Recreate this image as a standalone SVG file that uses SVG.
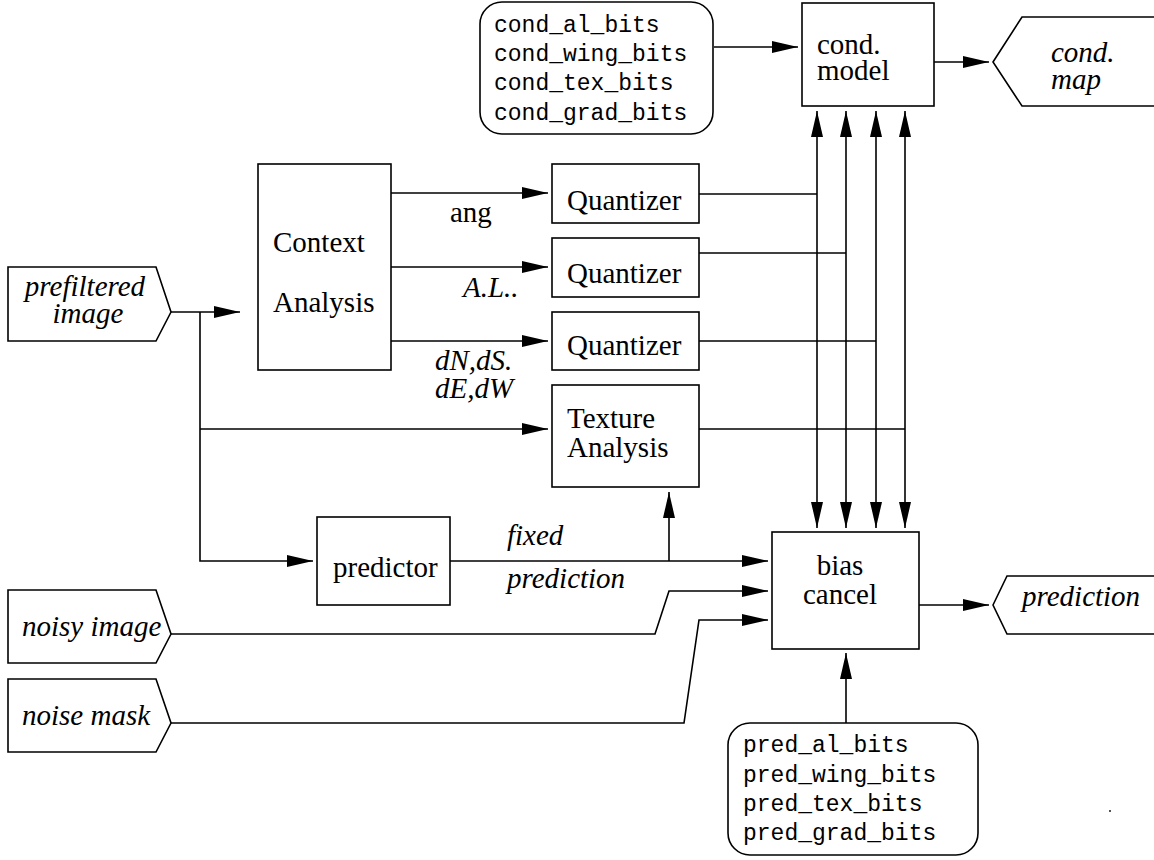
<svg xmlns="http://www.w3.org/2000/svg" width="1154" height="860" viewBox="0 0 1154 860">
<style>
.b{fill:#fff;stroke:#000;stroke-width:1.6}
.l{fill:none;stroke:#000;stroke-width:1.6}
.t{font-family:"Liberation Serif","Times New Roman",serif;font-size:29px;fill:#000}
.i{font-family:"Liberation Serif","Times New Roman",serif;font-size:29px;font-style:italic;fill:#000}
.m{font-family:"Liberation Mono","Courier New",monospace;font-size:23px;fill:#000}
</style>
<defs>
<marker id="a" markerUnits="userSpaceOnUse" markerWidth="26" markerHeight="12" refX="26" refY="6" orient="auto-start-reverse"><path d="M0,0 L26,6 L0,12 z" fill="#000"/></marker>
</defs>
<rect width="1154" height="860" fill="#fff"/>
<g id="connectors">
<path class="l" d="M714,47 H798" marker-end="url(#a)"/>
<path class="l" d="M934,62 H989" marker-end="url(#a)"/>
<path class="l" d="M817,111 V528" marker-start="url(#a)" marker-end="url(#a)"/>
<path class="l" d="M846,111 V528" marker-start="url(#a)" marker-end="url(#a)"/>
<path class="l" d="M876,111 V528" marker-start="url(#a)" marker-end="url(#a)"/>
<path class="l" d="M905,111 V528" marker-start="url(#a)" marker-end="url(#a)"/>
<path class="l" d="M699,194 H817"/>
<path class="l" d="M699,253 H846"/>
<path class="l" d="M699,341 H876"/>
<path class="l" d="M699,429 H905"/>
<path class="l" d="M391,193 H548" marker-end="url(#a)"/>
<path class="l" d="M391,267 H548" marker-end="url(#a)"/>
<path class="l" d="M391,341 H548" marker-end="url(#a)"/>
<path class="l" d="M171,312 H240" marker-end="url(#a)"/>
<path class="l" d="M200,312 V561 H313" marker-end="url(#a)"/>
<path class="l" d="M200,429 H548" marker-end="url(#a)"/>
<path class="l" d="M450,561 H768" marker-end="url(#a)"/>
<path class="l" d="M669,561 V492" marker-end="url(#a)"/>
<path class="l" d="M171,634 H655 L669,591 H768" marker-end="url(#a)"/>
<path class="l" d="M171,723 H684 L699,620 H768" marker-end="url(#a)"/>
<path class="l" d="M919,605 H989" marker-end="url(#a)"/>
<path class="l" d="M846,723 V653" marker-end="url(#a)"/>
</g>
<g id="cond_bits">
<rect class="b" x="480" y="2" width="233" height="132" rx="22"/>
<text class="m" x="494" y="32">cond_al_bits</text>
<text class="m" x="494" y="61">cond_wing_bits</text>
<text class="m" x="494" y="90">cond_tex_bits</text>
<text class="m" x="494" y="120">cond_grad_bits</text>
</g>
<g id="cond_model">
<rect class="b" x="802" y="3" width="132" height="103"/>
<text class="t" x="817" y="54">cond.</text>
<text class="t" x="817" y="80">model</text>
</g>
<g id="cond_map">
<path class="b" d="M993,62 L1022,17 H1160 V106 H1022 Z"/>
<text class="i" x="1051" y="62">cond.</text>
<text class="i" x="1051" y="89">map</text>
</g>
<g id="prefiltered">
<path class="b" d="M8,267 H156 L171,312 L156,341 H8 Z"/>
<text class="i" x="85" y="296" text-anchor="middle">prefiltered</text>
<text class="i" x="88" y="323" text-anchor="middle">image</text>
</g>
<g id="context">
<rect class="b" x="258" y="164" width="133" height="206"/>
<text class="t" x="273" y="252">Context</text>
<text class="t" x="273" y="312">Analysis</text>
</g>
<g id="labels">
<text class="t" x="450" y="222">ang</text>
<text class="i" x="463" y="297">A.L..</text>
<text class="i" x="435" y="370">dN,dS.</text>
<text class="i" x="435" y="398">dE,dW</text>
<text class="i" x="507" y="545">fixed</text>
<text class="i" x="507" y="588">prediction</text>
</g>
<g id="q1">
<rect class="b" x="552" y="164" width="147" height="59"/>
<text class="t" x="567" y="210">Quantizer</text>
</g>
<g id="q2">
<rect class="b" x="552" y="238" width="147" height="59"/>
<text class="t" x="567" y="283">Quantizer</text>
</g>
<g id="q3">
<rect class="b" x="552" y="312" width="147" height="58"/>
<text class="t" x="567" y="355">Quantizer</text>
</g>
<g id="texture">
<rect class="b" x="552" y="385" width="147" height="102"/>
<text class="t" x="567" y="428">Texture</text>
<text class="t" x="567" y="457">Analysis</text>
</g>
<g id="predictor">
<rect class="b" x="317" y="517" width="133" height="88"/>
<text class="t" x="333" y="577">predictor</text>
</g>
<g id="bias_cancel">
<rect class="b" x="772" y="532" width="147" height="117"/>
<text class="t" x="840" y="575" text-anchor="middle">bias</text>
<text class="t" x="840" y="604" text-anchor="middle">cancel</text>
</g>
<g id="prediction_out">
<path class="b" d="M993,605 L1007,576 H1160 V634 H1007 Z"/>
<text class="i" x="1022" y="606">prediction</text>
</g>
<g id="noisy_image">
<path class="b" d="M8,590 H156 L171,634 L156,663 H8 Z"/>
<text class="i" x="22" y="636">noisy image</text>
</g>
<g id="noise_mask">
<path class="b" d="M8,679 H156 L171,723 L156,752 H8 Z"/>
<text class="i" x="22" y="725">noise mask</text>
</g>
<g id="pred_bits">
<rect class="b" x="728" y="723" width="250" height="132" rx="22"/>
<text class="m" x="743" y="752">pred_al_bits</text>
<text class="m" x="743" y="782">pred_wing_bits</text>
<text class="m" x="743" y="811">pred_tex_bits</text>
<text class="m" x="743" y="840">pred_grad_bits</text>
</g>
<circle cx="1110" cy="811" r="0.9" fill="#000"/>
</svg>
